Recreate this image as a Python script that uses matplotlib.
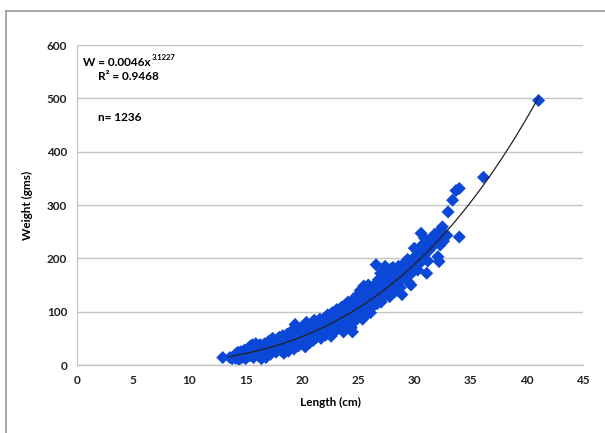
import matplotlib
matplotlib.use("Agg")
import matplotlib.pyplot as plt
from matplotlib.lines import Line2D
import numpy as np

length = [
    12.96, 13.6, 13.8, 14.0, 14.1, 14.2, 14.3, 14.4, 14.5, 14.6, 14.7, 14.8, 14.9,
    15.0, 15.1, 15.2, 15.3, 15.4, 15.5, 15.6, 15.7, 15.8, 15.9, 15.9,
    16.0, 16.1, 16.2, 16.3, 16.4, 16.5, 16.6, 16.7, 16.8, 16.9,
    17.0, 17.1, 17.2, 17.3, 17.4, 17.5, 17.6, 17.7, 17.8, 17.9,
    18.0, 18.1, 18.2, 18.3, 18.4, 18.5, 18.6, 18.7, 18.8, 18.9,
    19.0, 19.1, 19.2, 19.3, 19.4, 19.5, 19.6, 19.7, 19.8, 19.9,
    20.0, 20.1, 20.2, 20.3, 20.4, 20.5, 20.6, 20.7, 20.8, 20.9,
    21.0, 21.1, 21.2, 21.3, 21.4, 21.5, 21.6, 21.7, 21.8, 21.9,
    22.0, 22.1, 22.2, 22.3, 22.4, 22.5, 22.6, 22.7, 22.8, 22.9,
    23.0, 23.1, 23.2, 23.3, 23.4, 23.5, 23.6, 23.7, 23.8, 23.9,
    24.0, 24.1, 24.2, 24.3, 24.4, 24.5, 24.6, 24.7, 24.8, 24.9,
    25.0, 25.1, 25.2, 25.3, 25.4, 25.5, 25.6, 25.7, 25.8, 25.9,
    26.0, 26.2, 26.3, 26.5, 26.6, 26.7, 26.8, 26.9,
    27.0, 27.2, 27.3, 27.4, 27.5, 27.7, 27.8, 27.9,
    28.0, 28.1, 28.3, 28.4, 28.5, 28.7, 28.8, 28.9,
    29.0, 29.2, 29.3, 29.4, 29.5, 29.6, 29.7, 29.8, 29.9,
    30.0, 30.0, 30.2, 30.3, 30.5, 30.6, 30.7, 30.9, 31.0, 31.1, 31.2, 31.3,
    31.5, 31.8, 31.9, 32.0, 32.1, 32.2, 32.3, 32.3, 32.5, 32.9, 33.0, 33.4,
    33.7, 34.0, 34.0, 36.15, 41.05,
    14.05, 14.35, 14.65, 14.95, 15.25, 15.45, 15.75, 15.95, 16.15, 16.35,
    16.55, 16.75, 16.95, 17.15, 17.35, 17.55, 17.75, 17.95, 18.15, 18.35,
    18.55, 18.75, 18.95, 19.15, 19.35, 19.55, 19.75, 19.95, 20.15, 20.35,
    20.55, 20.75, 20.95, 21.15, 21.35, 21.55, 21.75, 21.95, 22.15, 22.35,
    22.55, 22.75, 22.95, 23.15, 23.35, 23.55, 23.65, 23.85, 24.05, 24.25,
    24.45, 24.65, 24.85, 25.05, 25.25, 25.45, 25.65, 25.85, 26.05, 26.1,
    26.25, 26.4, 26.45, 26.55, 26.75, 26.95, 27.05, 27.15, 27.35, 27.55,
    27.65, 27.85, 28.05, 28.2, 28.45, 28.6, 28.75, 28.95, 29.1, 29.25,
    29.45, 29.65, 29.85, 30.1, 30.35, 30.45, 30.65, 30.8, 31.05, 31.4,
    31.6, 31.7, 32.4, 32.6,
]
weight = [
    14, 14, 12, 18, 13, 22, 16, 10, 20, 25, 14, 19, 28,
    12, 22, 30, 17, 35, 25, 38, 14, 28, 40, 20,
    32, 18, 26, 38, 12, 30, 22, 40, 14, 34,
    26, 45, 20, 36, 50, 30, 42, 24, 48, 35,
    52, 28, 40, 55, 22, 45, 34, 58, 26, 48,
    62, 38, 52, 30, 76, 44, 60, 36, 66, 50,
    40, 72, 56, 34, 80, 48, 64, 42, 76, 58,
    46, 84, 66, 52, 78, 60, 86, 50, 72, 62,
    88, 56, 74, 94, 62, 82, 54, 98, 70, 86,
    64, 104, 78, 92, 70, 108, 84, 62, 112, 96,
    76, 118, 90, 104, 70, 62, 124, 98, 84, 130,
    110, 92, 140, 118, 86, 148, 104, 128, 96, 150,
    120, 108, 145, 130, 188, 115, 160, 138,
    172, 126, 150, 185, 140, 165, 128, 180,
    155, 183, 138, 170, 150, 178, 160, 132,
    180, 165, 195, 198, 155, 169, 150, 185, 200,
    219, 190, 205, 178, 200, 247, 225, 238, 230, 172, 195, 215,
    228, 245, 241, 232, 203, 194, 253, 225, 259, 243, 287, 309,
    327, 331, 240, 352, 496,
    15, 24, 17, 22, 24, 18, 32, 30, 36, 20,
    16, 28, 42, 32, 28, 40, 34, 44, 36, 46,
    30, 42, 38, 46, 56, 40, 52, 58, 46, 62,
    70, 52, 66, 56, 70, 74, 64, 80, 68, 78,
    72, 66, 76, 88, 82, 76, 98, 88, 100, 82,
    110, 92, 106, 128, 100, 116, 138, 112, 140, 98,
    128, 112, 150, 122, 140, 150, 118, 160, 135, 175,
    150, 158, 170, 145, 160, 185, 145, 172, 190, 175,
    182, 192, 175, 198, 212, 190, 215, 205, 210, 235,
    222, 238, 235, 232,
]

# Power trendline W = a * L^b
coef_a = 0.0046
coef_b = 3.1227
r_squared = 0.9468
n_obs = 1236

x_ticks = [0, 5, 10, 15, 20, 25, 30, 35, 40, 45]
y_ticks = [0, 100, 200, 300, 400, 500, 600]

plt.rcParams['font.family'] = ['Lato', 'DejaVu Sans']
plt.rcParams['font.weight'] = 'bold'

fig = plt.figure(figsize=(6.05, 4.33), dpi=100)
ax = fig.add_axes([77/605, 1-365/433, (583-77)/605, (365-45)/433])

ax.scatter(length, weight, marker='D', s=44, color='#0b48d8', edgecolors='none', zorder=3)

lc = np.linspace(13.5, 41.05, 200)
ax.plot(lc, coef_a * lc ** coef_b, color='#222222', lw=0.9, zorder=4)

ax.set_xlim(0, 45)
ax.set_ylim(0, 600)
ax.set_xticks(x_ticks)
ax.set_yticks(y_ticks)
ax.tick_params(length=0, labelsize=8.5, pad=7, colors='#222222')
for lab in ax.get_xticklabels() + ax.get_yticklabels():
    lab.set_fontweight('bold')
ax.grid(axis='y', color='#c4c4c4', lw=1.0)
ax.set_axisbelow(True)
for s in ['top', 'right']:
    ax.spines[s].set_visible(False)
ax.spines['left'].set_color('#c4c4c4')
ax.spines['bottom'].set_color('#c4c4c4')
ax.spines['bottom'].set_linewidth(1.0)

ax.set_xlabel('Length (cm)', fontsize=8.5, fontweight='bold', labelpad=8)
ax.set_ylabel('Weight (gms)', fontsize=8.5, fontweight='bold', labelpad=10)

t = fig.text(83/605, 1-62/433, 'W = 0.0046x', fontsize=8.5,
             fontweight='bold', va='center', ha='left')
fig.canvas.draw()
bb = t.get_window_extent()
fig.text(bb.x1/605 + 0.001, 1-58/433, '%.4f' % coef_b, fontsize=5.5,
         fontweight='bold', va='center', ha='left')
fig.text(98/605, 1-77/433, 'R² = %.4f' % r_squared, fontsize=8.5,
         fontweight='bold', va='center', ha='left')
fig.text(98/605, 1-118/433, 'n= %d' % n_obs, fontsize=8.5,
         fontweight='bold', va='center', ha='left')

# outer chart frame (top and left edges visible)
fig.add_artist(Line2D([6/605, 1], [1-11/433, 1-11/433], color='#9a9a9a', lw=1.2))
fig.add_artist(Line2D([6/605, 6/605], [0, 1-11/433], color='#9a9a9a', lw=1.2))

fig.savefig('out.png', dpi=100)
